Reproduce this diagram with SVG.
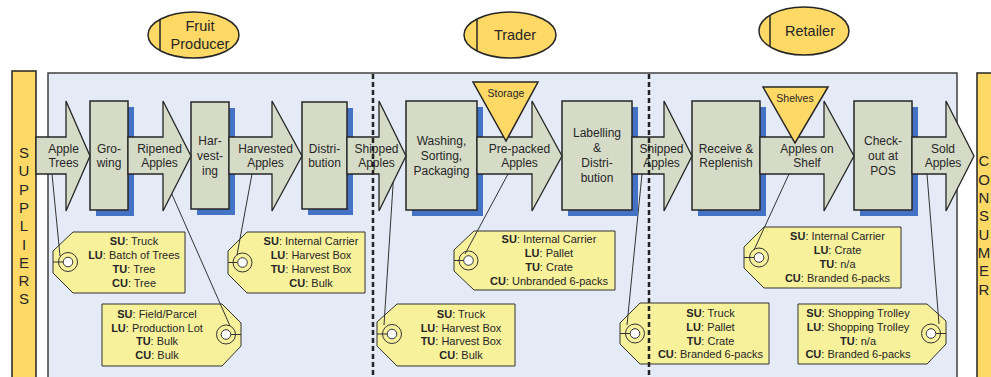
<svg xmlns="http://www.w3.org/2000/svg" width="991" height="377" viewBox="0 0 991 377">
<style>
text{font-family:"Liberation Sans",Arial,sans-serif;fill:#262626}
.lbl{font-size:12px;text-anchor:middle}
.tag{font-size:11px;text-anchor:middle}
.b{font-weight:bold}
.lane{font-size:14.5px;text-anchor:middle}
.side{font-size:15px;text-anchor:middle}
.tri{font-size:10.5px;text-anchor:middle}
.gold{fill:#FFD966;stroke:#262626;stroke-width:1.5}
.proc{fill:#D5DBC7;stroke:#262626;stroke-width:1.5}
.arrow{fill:#D5DBC7;stroke:#262626;stroke-width:1.3}
.shadow{fill:#4472C4}
.tagshape{fill:#F7F19C;stroke:#333;stroke-width:1}
.ring{fill:none;stroke:#333;stroke-width:1}
.hole{fill:#fff;stroke:#333;stroke-width:1}
.conn{stroke:#333;stroke-width:1;fill:none}
.dash{stroke:#222;stroke-width:2.5;stroke-dasharray:5 3}
</style>
<g id="panel"><rect x="48" y="73" width="909" height="320" fill="#E4EAF6" stroke="#404040" stroke-width="1.5"/></g>
<g id="suppliers">
<rect class="gold" x="12" y="71" width="24" height="320"/>
<text class="side" x="24" y="158">S</text><text class="side" x="24" y="176.3">U</text><text class="side" x="24" y="194.6">P</text><text class="side" x="24" y="212.9">P</text><text class="side" x="24" y="231.2">L</text><text class="side" x="24" y="249.5">I</text><text class="side" x="24" y="267.8">E</text><text class="side" x="24" y="286.1">R</text><text class="side" x="24" y="304.4">S</text>
</g>
<g id="consumers">
<rect class="gold" x="977" y="73" width="30" height="320"/>
<text class="side" x="984" y="166.4">C</text><text class="side" x="984" y="184.7">O</text><text class="side" x="984" y="203">N</text><text class="side" x="984" y="221.3">S</text><text class="side" x="984" y="239.6">U</text><text class="side" x="984" y="257.9">M</text><text class="side" x="984" y="276.2">E</text><text class="side" x="984" y="294.5">R</text>
</g>
<g id="lane-fruit-producer">
<ellipse class="gold" cx="193.5" cy="35" rx="45.5" ry="23"/>
<line x1="160" y1="19.4" x2="160" y2="50.6" stroke="#262626" stroke-width="1.5"/>
<text class="lane" x="200" y="31">Fruit</text><text class="lane" x="200" y="48.5">Producer</text>
</g>
<g id="lane-trader">
<ellipse class="gold" cx="510" cy="35" rx="46" ry="23"/>
<line x1="477" y1="19" x2="477" y2="51" stroke="#262626" stroke-width="1.5"/>
<text class="lane" x="515" y="40">Trader</text>
</g>
<g id="lane-retailer">
<ellipse class="gold" cx="804" cy="31" rx="45" ry="24"/>
<line x1="770" y1="15.3" x2="770" y2="46.7" stroke="#262626" stroke-width="1.5"/>
<text class="lane" x="810" y="36">Retailer</text>
</g>
<g id="tag-apple-trees">
<polygon class="tagshape" points="73,232 185,232 185,293 73,293 53,273 53,251"/>
<line class="conn" x1="53" y1="262" x2="63" y2="262"/>
<circle class="ring" cx="68" cy="262" r="9.5"/><circle class="hole" cx="68" cy="262" r="4.8"/>
<text class="tag" x="134" y="245"><tspan class="b">SU</tspan>: Truck</text>
<text class="tag" x="134" y="259"><tspan class="b">LU</tspan>: Batch of Trees</text>
<text class="tag" x="134" y="273"><tspan class="b">TU</tspan>: Tree</text>
<text class="tag" x="134" y="287"><tspan class="b">CU</tspan>: Tree</text>
</g>
<g id="tag-ripened-apples">
<polygon class="tagshape" points="102,304 222,304 241,323 241,346 222,366 102,366"/>
<line class="conn" x1="231" y1="334.5" x2="241" y2="334.5"/>
<circle class="ring" cx="226" cy="334.5" r="9.5"/><circle class="hole" cx="226" cy="334.5" r="4.8"/>
<text class="tag" x="157" y="318"><tspan class="b">SU</tspan>: Field/Parcel</text>
<text class="tag" x="157" y="331.7"><tspan class="b">LU</tspan>: Production Lot</text>
<text class="tag" x="157" y="345.4"><tspan class="b">TU</tspan>: Bulk</text>
<text class="tag" x="157" y="359.1"><tspan class="b">CU</tspan>: Bulk</text>
</g>
<g id="tag-harvested-apples">
<polygon class="tagshape" points="247,232 365,232 365,293 247,293 228,274 228,251"/>
<line class="conn" x1="228" y1="262.5" x2="237.5" y2="262.5"/>
<circle class="ring" cx="242.5" cy="262.5" r="9.5"/><circle class="hole" cx="242.5" cy="262.5" r="4.8"/>
<text class="tag" x="311" y="245"><tspan class="b">SU</tspan>: Internal Carrier</text>
<text class="tag" x="311" y="259"><tspan class="b">LU</tspan>: Harvest Box</text>
<text class="tag" x="311" y="273"><tspan class="b">TU</tspan>: Harvest Box</text>
<text class="tag" x="311" y="287"><tspan class="b">CU</tspan>: Bulk</text>
</g>
<g id="tag-shipped-apples-1">
<polygon class="tagshape" points="397,304 515,304 515,366 397,366 377,346 377,322"/>
<line class="conn" x1="377" y1="334" x2="387" y2="334"/>
<circle class="ring" cx="392" cy="334" r="9.5"/><circle class="hole" cx="392" cy="334" r="4.8"/>
<text class="tag" x="461" y="318"><tspan class="b">SU</tspan>: Truck</text>
<text class="tag" x="461" y="331.7"><tspan class="b">LU</tspan>: Harvest Box</text>
<text class="tag" x="461" y="345.4"><tspan class="b">TU</tspan>: Harvest Box</text>
<text class="tag" x="461" y="359.1"><tspan class="b">CU</tspan>: Bulk</text>
</g>
<g id="tag-pre-packed-apples">
<polygon class="tagshape" points="474,231 615,231 615,290 474,290 454,271 454,250"/>
<line class="conn" x1="454" y1="260.5" x2="463.5" y2="260.5"/>
<circle class="ring" cx="468.5" cy="260.5" r="9.5"/><circle class="hole" cx="468.5" cy="260.5" r="4.8"/>
<text class="tag" x="549" y="243"><tspan class="b">SU</tspan>: Internal Carrier</text>
<text class="tag" x="549" y="257"><tspan class="b">LU</tspan>: Pallet</text>
<text class="tag" x="549" y="271"><tspan class="b">TU</tspan>: Crate</text>
<text class="tag" x="549" y="284.5"><tspan class="b">CU</tspan>: Unbranded 6-packs</text>
</g>
<g id="tag-shipped-apples-2">
<polygon class="tagshape" points="640,303 769,303 769,364 640,364 620,344 620,323"/>
<line class="conn" x1="620" y1="333.5" x2="630" y2="333.5"/>
<circle class="ring" cx="635" cy="333.5" r="9.5"/><circle class="hole" cx="635" cy="333.5" r="4.8"/>
<text class="tag" x="710.5" y="317"><tspan class="b">SU</tspan>: Truck</text>
<text class="tag" x="710.5" y="331"><tspan class="b">LU</tspan>: Pallet</text>
<text class="tag" x="710.5" y="344.5"><tspan class="b">TU</tspan>: Crate</text>
<text class="tag" x="710.5" y="358"><tspan class="b">CU</tspan>: Branded 6-packs</text>
</g>
<g id="tag-apples-on-shelf">
<polygon class="tagshape" points="764,227 901,227 901,288 764,288 744,268 744,247"/>
<line class="conn" x1="744" y1="257.5" x2="754" y2="257.5"/>
<circle class="ring" cx="759" cy="257.5" r="9.5"/><circle class="hole" cx="759" cy="257.5" r="4.8"/>
<text class="tag" x="837.5" y="240"><tspan class="b">SU</tspan>: Internal Carrier</text>
<text class="tag" x="837.5" y="254"><tspan class="b">LU</tspan>: Crate</text>
<text class="tag" x="837.5" y="268"><tspan class="b">TU</tspan>: n/a</text>
<text class="tag" x="837.5" y="282"><tspan class="b">CU</tspan>: Branded 6-packs</text>
</g>
<g id="tag-sold-apples">
<polygon class="tagshape" points="798,304 927,304 946,321 946,344 927,364 798,364"/>
<line class="conn" x1="936" y1="333.5" x2="946" y2="333.5"/>
<circle class="ring" cx="931" cy="333.5" r="9.5"/><circle class="hole" cx="931" cy="333.5" r="4.8"/>
<text class="tag" x="858" y="317"><tspan class="b">SU</tspan>: Shopping Trolley</text>
<text class="tag" x="858" y="331"><tspan class="b">LU</tspan>: Shopping Trolley</text>
<text class="tag" x="858" y="344.5"><tspan class="b">TU</tspan>: n/a</text>
<text class="tag" x="858" y="358"><tspan class="b">CU</tspan>: Branded 6-packs</text>
</g>
<g id="connectors">
<line class="conn" x1="52" y1="174" x2="60" y2="256"/>
<line class="conn" x1="163" y1="174" x2="230" y2="326"/>
<line class="conn" x1="252" y1="174" x2="237" y2="255"/>
<line class="conn" x1="394" y1="170" x2="384" y2="325"/>
<line class="conn" x1="508" y1="174" x2="465" y2="254"/>
<line class="conn" x1="642" y1="174" x2="627" y2="325"/>
<line class="conn" x1="789" y1="174" x2="754" y2="250"/>
<line class="conn" x1="927" y1="174" x2="939" y2="324"/>
</g>
<g id="proc-growing"><rect class="shadow" x="96" y="107" width="38" height="109"/><rect class="proc" x="90" y="101" width="38" height="109"/>
<text class="lbl" x="109" y="152.5">Gro-</text><text class="lbl" x="109" y="167">wing</text></g>
<g id="proc-harvesting"><rect class="shadow" x="197" y="108" width="38" height="107"/><rect class="proc" x="191" y="102" width="38" height="107"/>
<text class="lbl" x="210" y="144.5">Har-</text><text class="lbl" x="210" y="159.5">vest-</text><text class="lbl" x="210" y="174.5">ing</text></g>
<g id="proc-distribution"><rect class="shadow" x="308" y="108" width="45" height="107"/><rect class="proc" x="302" y="102" width="45" height="107"/>
<text class="lbl" x="324.5" y="152.5">Distri-</text><text class="lbl" x="324.5" y="167">bution</text></g>
<g id="proc-washing"><rect class="shadow" x="412" y="107" width="71" height="109"/><rect class="proc" x="406" y="101" width="71" height="109"/>
<text class="lbl" x="441.5" y="144.5">Washing,</text><text class="lbl" x="441.5" y="159.5">Sorting,</text><text class="lbl" x="441.5" y="174.5">Packaging</text></g>
<g id="proc-labelling"><rect class="shadow" x="568" y="107" width="70" height="109"/><rect class="proc" x="562" y="101" width="70" height="109"/>
<text class="lbl" x="597" y="137">Labelling</text><text class="lbl" x="597" y="152">&amp;</text><text class="lbl" x="597" y="167">Distri-</text><text class="lbl" x="597" y="182">bution</text></g>
<g id="proc-receive"><rect class="shadow" x="698" y="107" width="68" height="109"/><rect class="proc" x="692" y="101" width="68" height="109"/>
<text class="lbl" x="726" y="152.5">Receive &amp;</text><text class="lbl" x="726" y="167">Replenish</text></g>
<g id="proc-checkout"><rect class="shadow" x="860" y="107" width="58" height="109"/><rect class="proc" x="854" y="101" width="58" height="109"/>
<text class="lbl" x="883" y="144.5">Check-</text><text class="lbl" x="883" y="159.5">out at</text><text class="lbl" x="883" y="174.5">POS</text></g>
<g id="arrow-apple-trees"><path class="arrow" d="M36 137H66V101L90 156L66 211V174H36Z"/>
<text class="lbl" x="63.5" y="152.5">Apple</text><text class="lbl" x="63.5" y="167">Trees</text></g>
<g id="arrow-ripened-apples"><path class="arrow" d="M128 137H163V101L191 156L163 211V174H128Z"/>
<text class="lbl" x="159.5" y="152.5">Ripened</text><text class="lbl" x="159.5" y="167">Apples</text></g>
<g id="arrow-harvested-apples"><path class="arrow" d="M229 137H272V101L302 156L272 211V174H229Z"/>
<text class="lbl" x="265.5" y="152.5">Harvested</text><text class="lbl" x="265.5" y="167">Apples</text></g>
<g id="arrow-shipped-apples-1"><path class="arrow" d="M347 137H379V101L406 156L379 211V174H347Z"/>
<text class="lbl" x="376.5" y="152.5">Shipped</text><text class="lbl" x="376.5" y="167">Apples</text></g>
<g id="arrow-pre-packed-apples"><path class="arrow" d="M477 137H532V101L562 156L532 211V174H477Z"/>
<text class="lbl" x="519.5" y="152.5">Pre-packed</text><text class="lbl" x="519.5" y="167">Apples</text></g>
<g id="arrow-shipped-apples-2"><path class="arrow" d="M632 137H664V101L692 156L664 211V174H632Z"/>
<text class="lbl" x="661.5" y="152.5">Shipped</text><text class="lbl" x="661.5" y="167">Apples</text></g>
<g id="arrow-apples-on-shelf"><path class="arrow" d="M760 137H824V101L854 156L824 211V174H760Z"/>
<text class="lbl" x="807" y="152.5">Apples on</text><text class="lbl" x="807" y="167">Shelf</text></g>
<g id="arrow-sold-apples"><path class="arrow" d="M912 137H946V101L974 156L946 211V174H912Z"/>
<text class="lbl" x="943" y="152.5">Sold</text><text class="lbl" x="943" y="167">Apples</text></g>
<g id="storage"><polygon class="gold" points="473,82 538,82 506,141"/><text class="tri" x="506" y="97">Storage</text></g>
<g id="shelves"><polygon class="gold" points="763,87 828,87 795,143"/><text class="tri" x="795" y="102">Shelves</text></g>
<g id="lane-dividers">
<line class="dash" x1="373" y1="74" x2="373" y2="377"/>
<line class="dash" x1="649" y1="74" x2="649" y2="377"/>
</g>
</svg>
